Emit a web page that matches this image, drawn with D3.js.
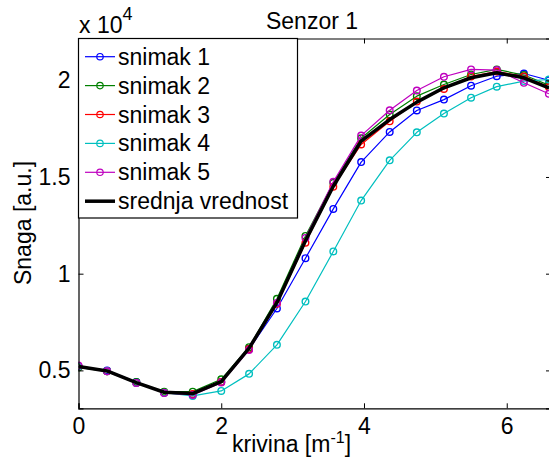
<!DOCTYPE html>
<html>
<head>
<meta charset="utf-8">
<script src="https://cdn.jsdelivr.net/npm/d3@7"></script>
<style>
  body { margin: 0; background: #fff; }
  text { font-family: "Liberation Sans", Arial, sans-serif; fill: #000; }
</style>
</head>
<body>
<script>
// curvature values (x axis)
var krivina = [0, 0.40, 0.81, 1.20, 1.60, 2.00, 2.39, 2.78, 3.18, 3.57, 3.96, 4.36, 4.74, 5.12, 5.50, 5.86, 6.24, 6.59];

// power per recording (raw units)
var snimak1 = [5200, 5000, 4400, 3850, 3750, 4400, 6100, 8200, 10800, 13350, 15770, 17330, 18440, 19000, 19720, 20210, 20350, 20000];
var snimak2 = [5150, 4950, 4400, 3900, 3900, 4540, 6200, 8700, 11950, 14700, 17000, 18230, 19180, 19780, 20300, 20560, 20270, 19750];
var snimak3 = [5200, 4950, 4350, 3850, 3780, 4400, 6100, 8450, 11600, 14500, 16680, 17880, 18900, 19550, 20200, 20450, 20200, 19650];
var snimak4 = [5200, 4950, 4350, 3850, 3680, 3940, 4820, 6320, 8560, 11150, 13780, 15860, 17310, 18280, 19100, 19670, 19960, 20040];
var snimak5 = [5250, 4950, 4350, 3830, 3730, 4370, 6050, 8480, 11850, 14750, 17140, 18450, 19470, 20180, 20560, 20530, 19870, 19300];
var srednja = [5200, 4970, 4370, 3870, 3800, 4420, 6150, 8500, 11700, 14520, 16850, 17970, 18870, 19610, 20130, 20390, 20130, 19610];

var seriesNames = ["snimak 1", "snimak 2", "snimak 3", "snimak 4", "snimak 5", "srednja vrednost"];
var seriesColors = ["#0000ff", "#008000", "#ff0000", "#00bfbf", "#bf00bf", "#000000"];
var xTicks = [0, 2, 4, 6];
var yTicks = [5000, 10000, 15000, 20000];

var series = [snimak1, snimak2, snimak3, snimak4, snimak5, srednja];

var W = 549, H = 459;
var axL = 78.5, axT = 38.5, axR = 551, axB = 408.3;

var svg = d3.select("body").append("svg")
    .attr("width", W)
    .attr("height", H);

var x = d3.scaleLinear().domain([0, 6.62]).range([axL, axR]);
var y = d3.scaleLinear().domain([3040, 22160]).range([axB, axT]);

svg.append("defs").append("clipPath").attr("id", "clip")
  .append("rect")
    .attr("x", axL).attr("y", axT)
    .attr("width", axR - axL).attr("height", axB - axT);

// data lines
var line = d3.line()
    .x(function(d, i) { return x(krivina[i]); })
    .y(function(d) { return y(d); });

var plot = svg.append("g").attr("clip-path", "url(#clip)");

series.forEach(function(s, k) {
  var isMean = k === 5;
  plot.append("path")
      .datum(s)
      .attr("fill", "none")
      .attr("stroke", seriesColors[k])
      .attr("stroke-width", isMean ? 3.5 : 1.2)
      .attr("stroke-linejoin", "round")
      .attr("d", line);
  if (!isMean) {
    plot.selectAll(".m" + k)
        .data(s)
      .enter().append("circle")
        .attr("class", "m" + k)
        .attr("cx", function(d, i) { return x(krivina[i]); })
        .attr("cy", function(d) { return y(d); })
        .attr("r", 3.3)
        .attr("fill", "none")
        .attr("stroke", seriesColors[k])
        .attr("stroke-width", 1.4);
  }
});

// axes (MATLAB style: ticks inside, box)
var fs = 23;
var xAxisB = d3.axisBottom(x).tickValues(xTicks).tickSize(-5).tickPadding(9)
    .tickFormat(d3.format("d"));
var xAxisT = d3.axisTop(x).tickValues(xTicks).tickSize(-5).tickFormat("");
var yAxisL = d3.axisLeft(y).tickValues(yTicks).tickSize(-5).tickPadding(8)
    .tickFormat(function(d) { return d / 10000; });
var yAxisR = d3.axisRight(y).tickValues(yTicks).tickSize(-5).tickFormat("");

function style(g) {
  g.select(".domain").attr("stroke", "#000").attr("stroke-width", 1.2);
  g.selectAll(".tick line").attr("stroke", "#000");
  g.selectAll(".tick text").style("font-size", fs + "px")
    .style("font-family", "'Liberation Sans', Arial, sans-serif").attr("fill", "#000");
}

svg.append("g").attr("transform", "translate(0," + axB + ")").call(xAxisB).call(style);
svg.append("g").attr("transform", "translate(0," + axT + ")").call(xAxisT).call(style);
svg.append("g").attr("transform", "translate(" + axL + ",0)").call(yAxisL).call(style);
svg.append("g").attr("transform", "translate(" + axR + ",0)").call(yAxisR).call(style);

// exponent label
var ex = svg.append("text").attr("x", 79).attr("y", 33).style("font-size", fs + "px");
ex.append("tspan").text("x 10");
ex.append("tspan").attr("dy", -13).style("font-size", "18px").text("4");

// title
svg.append("text")
    .attr("x", 312).attr("y", 29)
    .attr("text-anchor", "middle")
    .style("font-size", fs + "px")
    .text("Senzor 1");

// axis labels
var xl = svg.append("text").attr("x", 232).attr("y", 452).style("font-size", fs + "px");
xl.append("tspan").text("krivina [m");
xl.append("tspan").attr("dy", -9).style("font-size", "16px").text("-1");
xl.append("tspan").attr("dy", 9).text("]");

svg.append("text")
    .attr("transform", "translate(31,223) rotate(-90)")
    .attr("text-anchor", "middle")
    .style("font-size", fs + "px")
    .text("Snaga [a.u.]");

// legend
var lg = svg.append("g");
lg.append("rect")
    .attr("x", 78.5).attr("y", 38.5)
    .attr("width", 219).attr("height", 179.5)
    .attr("fill", "#fff").attr("stroke", "#000").attr("stroke-width", 1.2);

seriesNames.forEach(function(name, k) {
  var cy = 56.7 + k * 28.9;
  lg.append("line")
      .attr("x1", 85).attr("x2", 115)
      .attr("y1", cy).attr("y2", cy)
      .attr("stroke", seriesColors[k])
      .attr("stroke-width", k === 5 ? 3.5 : 1.2);
  if (k < 5) {
    lg.append("circle")
        .attr("cx", 100).attr("cy", cy).attr("r", 3.2)
        .attr("fill", "none").attr("stroke", seriesColors[k]).attr("stroke-width", 1.2);
  }
  lg.append("text")
      .attr("x", 118).attr("y", cy)
      .attr("dy", "0.35em")
      .style("font-size", fs + "px")
      .text(name);
});
</script>
</body>
</html>
